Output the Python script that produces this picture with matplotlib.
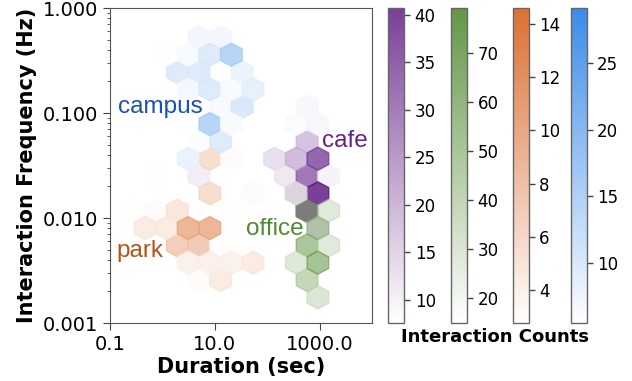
import numpy as np
import matplotlib
matplotlib.use("Agg")
import matplotlib.pyplot as plt
from matplotlib.cm import ScalarMappable
from matplotlib.colors import LinearSegmentedColormap, Normalize
from matplotlib.ticker import FixedLocator, FixedFormatter, NullLocator

# ---- data: hex-cell centres (duration in s, frequency in Hz) and interaction counts ----
cafe_dur = [577, 359, 929, 577, 139, 359, 929, 5.00, 223, 577, 1490, 359, 929, 577, 53.7, 929]
cafe_freq = [0.115, 0.0785, 0.0785, 0.0537, 0.0367, 0.0367, 0.0367, 0.0251, 0.0251, 0.0251,
             0.0251, 0.0172, 0.0172, 0.0117, 0.0367, 0.00804]
cafe_cnt = [9.0, 8.5, 9.0, 18.0, 13.0, 19.0, 34.0, 10.5, 11.5, 31.0, 9.5, 22.0, 40.7, 38.0,
            7.6, 14.0]

office_dur = [929, 1490, 577, 1490, 359, 929, 577, 929, 577, 359]
office_freq = [0.00804, 0.0117, 0.00550, 0.00550, 0.00376, 0.00376, 0.00257, 0.00176, 0.0117, 0.0172]
office_cnt = [55.0, 33.0, 66.0, 33.0, 34.0, 68.0, 50.0, 36.0, 60.0, 20.0]

park_dur = [8.04, 20.8, 0.748, 8.04, 53.7, 0.289, 0.748, 1.93, 12.9, 33.4, 0.465, 1.20,
            3.11, 8.04, 1.93, 5.00, 12.9, 3.11, 8.04, 20.8, 53.7, 5.00, 12.9]
park_freq = [0.0367, 0.0367, 0.0251, 0.0172, 0.0172, 0.0117, 0.0117, 0.0117, 0.0117, 0.0117,
             0.00804, 0.00804, 0.00804, 0.00804, 0.00550, 0.00550, 0.00550, 0.00376, 0.00376,
             0.00376, 0.00376, 0.00257, 0.00257]
park_cnt = [5.5, 3.0, 2.9, 5.5, 3.0, 2.9, 3.1, 4.8, 2.9, 2.9, 4.4, 4.4, 8.8, 8.8, 6.8, 7.0,
            2.9, 3.9, 3.9, 3.9, 4.4, 3.0, 4.4]

campus_dur = [5.00, 12.9, 1.20, 3.11, 8.04, 20.8, 1.93, 5.00, 33.4, 3.11, 8.04, 20.8, 53.7,
              1.93, 12.9, 33.4, 8.04, 20.8, 5.00, 12.9, 3.11]
campus_freq = [0.525, 0.525, 0.359, 0.359, 0.359, 0.359, 0.245, 0.245, 0.245, 0.168, 0.168,
               0.168, 0.168, 0.115, 0.115, 0.115, 0.0785, 0.0785, 0.0537, 0.0537, 0.0367]
campus_cnt = [7.0, 7.0, 5.7, 6.3, 9.5, 14.0, 9.5, 9.5, 7.8, 6.8, 9.5, 6.5, 8.3, 6.0,
              6.3, 10.0, 14.0, 6.3, 5.9, 9.5, 8.0]

# colour-bar limits for each venue
cafe_range = (7.6, 40.7)
office_range = (14.9, 79.2)
park_range = (2.77, 14.59)
campus_range = (5.5, 29.1)

x_ticks = [0.1, 10.0, 1000.0]
x_tick_labels = ["0.1", "10.0", "1000.0"]
y_ticks = [0.001, 0.01, 0.1, 1.0]
y_tick_labels = ["0.001", "0.010", "0.100", "1.000"]

cafe_ticks = [10, 15, 20, 25, 30, 35, 40]
office_ticks = [20, 30, 40, 50, 60, 70]
park_ticks = [4, 6, 8, 10, 12, 14]
campus_ticks = [10, 15, 20, 25]

# ---- figure ----
fig = plt.figure(figsize=(6.32, 3.81), dpi=100)
ax = fig.add_axes([0.174, 0.152, 0.4146, 0.827])

W, H = 632.0, 381.0
# durations, frequencies, counts, range, colour, ticks, hex alpha, colour-bar left edge (px)
venues = {
    "cafe": (cafe_dur, cafe_freq, cafe_cnt, cafe_range, "#59107E", cafe_ticks, 0.8, 388.3),
    "office": (office_dur, office_freq, office_cnt, office_range, "#3D7C18", office_ticks, 0.55, 451.0),
    "park": (park_dur, park_freq, park_cnt, park_range, "#D34C00", park_ticks, 0.8, 512.7),
    "campus": (campus_dur, campus_freq, campus_cnt, campus_range, "#0B6FE0", campus_ticks, 0.8, 570.7),
}
draw_order = ["cafe", "office", "park", "campus"]

for name in draw_order:
    dur, freq, cnt, rng, col, ticks, alpha, left = venues[name]
    cmap = LinearSegmentedColormap.from_list(name + "_map", ["white", col])
    norm = Normalize(vmin=rng[0], vmax=rng[1])
    ax.hexbin(dur, freq, C=cnt, reduce_C_function=np.max,
              xscale="log", yscale="log", gridsize=(12, 9),
              extent=(-0.951, 3.999, -2.92, 0.05),
              cmap=cmap, norm=norm, alpha=alpha, linewidths=1.0)
    cax = fig.add_axes([left / W, 1 - 322.7 / H, 16.0 / W, (322.7 - 8.3) / H])
    cb = fig.colorbar(ScalarMappable(norm=norm, cmap=cmap), cax=cax, alpha=0.8)
    cb.set_ticks(ticks)
    cb.ax.tick_params(labelsize=12, length=4, width=1, color="#444444")
    cb.outline.set_edgecolor("#666666")
    cb.outline.set_linewidth(1.0)

ax.set_xlim(0.1, 1e4)
ax.set_ylim(0.001, 1.0)
ax.xaxis.set_major_locator(FixedLocator(x_ticks))
ax.xaxis.set_major_formatter(FixedFormatter(x_tick_labels))
ax.xaxis.set_minor_locator(NullLocator())
ax.yaxis.set_major_locator(FixedLocator(y_ticks))
ax.yaxis.set_major_formatter(FixedFormatter(y_tick_labels))
ax.tick_params(axis="both", which="major", labelsize=14, length=5, color="#444444")
ax.tick_params(axis="y", which="minor", length=2.5, color="#444444")
for sp in ax.spines.values():
    sp.set_edgecolor("#555555")

ax.set_xlabel("Duration (sec)", fontsize=15, fontweight="bold", labelpad=2)
ax.set_ylabel("Interaction Frequency (Hz)", fontsize=15, fontweight="bold", labelpad=4)

lab_font = ["Liberation Sans", "DejaVu Sans"]
ax.text(0.031, 0.667, "campus", transform=ax.transAxes, fontsize=17.5,
        color="#1A4FB5", family=lab_font, va="baseline")
ax.text(0.808, 0.560, "cafe", transform=ax.transAxes, fontsize=17.5,
        color="#6A1F8A", family=lab_font, va="baseline")
ax.text(0.518, 0.279, "office", transform=ax.transAxes, fontsize=17.5,
        color="#4E8A2E", family=lab_font, va="baseline")
ax.text(0.0256, 0.210, "park", transform=ax.transAxes, fontsize=17.5,
        color="#B5521C", family=lab_font, va="baseline")

fig.text(495 / W, 1 - 337 / H, "Interaction Counts", fontsize=13, fontweight="bold",
         ha="center", va="center")

fig.savefig("out.png", dpi=100)
